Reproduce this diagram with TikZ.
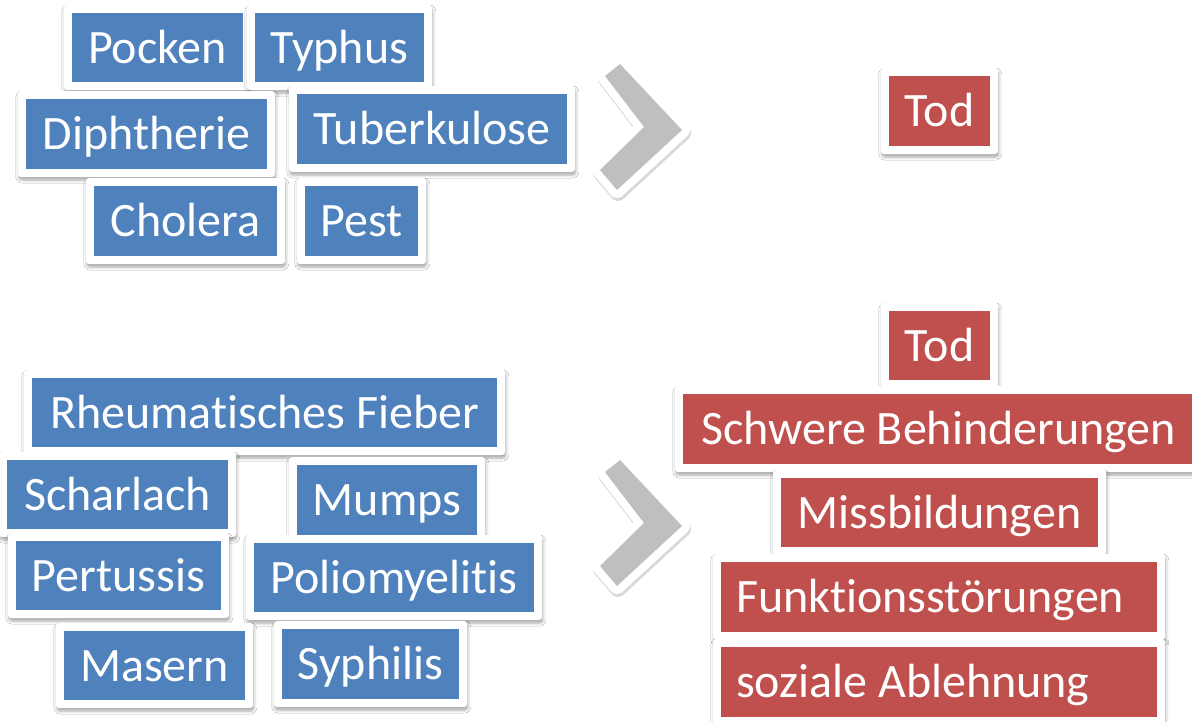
\documentclass[tikz,border=0pt]{standalone}
\usepackage{fontspec}
\setmainfont[Ligatures={NoCommon}]{Carlito}
\usetikzlibrary{shadows.blur}
\definecolor{boxblue}{HTML}{4F81BD}
\definecolor{boxred}{HTML}{C0504D}
\definecolor{chevgray}{HTML}{BFBFBF}
\tikzset{
  outerbox/.style={rectangle, fill=white, rounded corners=3pt, inner sep=0pt, outer sep=0pt,
    blur shadow={shadow xshift=0.8pt, shadow yshift=-3pt, shadow blur radius=3pt, shadow opacity=35}},
  boxtext/.style={text=white, inner sep=0pt, font=\fontsize{48}{57}\selectfont},
}
% #1 name, #2 x1, #3 y1, #4 x2, #5 y2 (inner fill, pixel coords), #6 colour, #7 text
\newcommand\dbox[7]{%
  \node[outerbox, minimum width={(#4-#2+16)*1pt}, minimum height={(#5-#3+16)*1pt}] (#1) at ({(#2+#4)/2},{(#3+#5)/2}) {};
  \fill[#6] ([xshift=8pt,yshift=-8pt]#1.north west) rectangle ([xshift=-8pt,yshift=8pt]#1.south east);
  \node[boxtext, anchor=base] (#1-t) at ([yshift=-15.8pt]#1.center) {#7};
}
\newcommand\dboxL[7]{%
  \node[outerbox, minimum width={(#4-#2+16)*1pt}, minimum height={(#5-#3+16)*1pt}] (#1) at ({(#2+#4)/2},{(#3+#5)/2}) {};
  \fill[#6] ([xshift=8pt,yshift=-8pt]#1.north west) rectangle ([xshift=-8pt,yshift=8pt]#1.south east);
  \node[boxtext, anchor=base west] (#1-t) at ([xshift=23pt,yshift=-15.8pt]#1.west) {#7};
}
\newcommand\chevronshape[1]{%
  \begin{scope}[shift={(0,#1)}]
    \begin{scope}[transparency group, opacity=0.15, shift={(1,3)}]
      \filldraw[black, line width=16pt, line join=round] (620,64) -- (682,130) -- (617,190) -- (600,170) -- (644,127) -- (605,76) -- cycle;
    \end{scope}
    \filldraw[white, line width=16pt, line join=round] (620,64) -- (682,130) -- (617,190) -- (600,170) -- (644,127) -- (605,76) -- cycle;
    \fill[chevgray] (620,64) -- (682,130) -- (617,190) -- (600,170) -- (644,127) -- (605,76) -- cycle;
  \end{scope}
}
\begin{document}
\begin{tikzpicture}[x=1pt, y=-1pt]
  \clip (0,0) rectangle (1192,721);
  \fill[white] (0,0) rectangle (1192,721);
  % top group
  \dbox{pocken}{72}{13}{243}{82}{boxblue}{Pocken}
  \dbox{typhus}{255}{13}{424}{82}{boxblue}{Typhus}
  \dbox{diph}{26}{99}{267}{169}{boxblue}{Diphtherie}
  \dbox{tuberk}{297}{94}{567}{164}{boxblue}{Tuberkulose}
  \dbox{cholera}{94}{186}{277}{256}{boxblue}{Cholera}
  \dbox{pest}{305}{186}{418}{256}{boxblue}{Pest}
  \chevronshape{0}
  \dbox{tod1}{889}{76}{990}{146}{boxred}{Tod}
  % bottom group
  \dbox{rheuma}{32}{378}{497}{447}{boxblue}{Rheumatisches Fieber}
  \dbox{scharlach}{7}{460}{228}{529}{boxblue}{Scharlach}
  \dbox{mumps}{297}{465}{477}{535}{boxblue}{Mumps}
  \dbox{pertussis}{16}{541}{221}{610}{boxblue}{Pertussis}
  \dbox{polio}{254}{543}{534}{612}{boxblue}{Poliomyelitis}
  \dbox{masern}{64}{631}{245}{700}{boxblue}{Masern}
  \dbox{syphilis}{282}{629}{459}{699}{boxblue}{Syphilis}
  \chevronshape{396}
  \dbox{tod2}{889}{311}{990}{380}{boxred}{Tod}
  \dbox{schwere}{683}{394}{1194}{464}{boxred}{Schwere Behinderungen}
  \dbox{miss}{781}{478}{1098}{547}{boxred}{Missbildungen}
  \dboxL{funktion}{721}{562}{1157}{632}{boxred}{Funktionsstörungen}
  \dboxL{sozial}{721}{647}{1157}{717}{boxred}{soziale Ablehnung}
\end{tikzpicture}
\end{document}
